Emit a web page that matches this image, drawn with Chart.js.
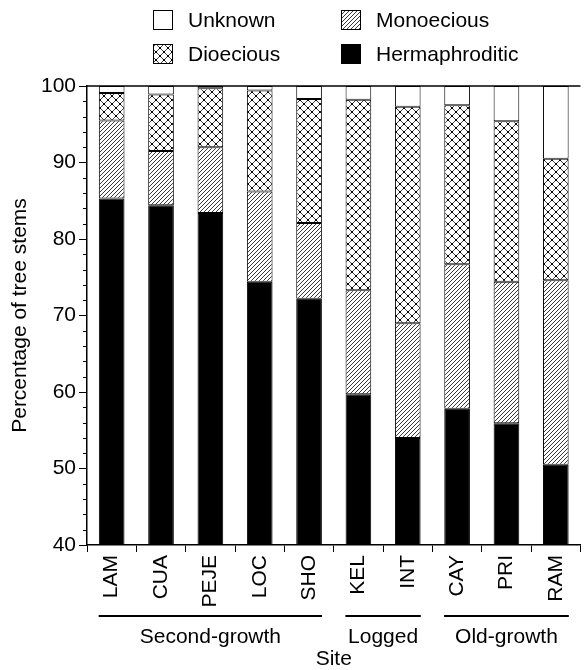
<!DOCTYPE html>
<html><head><meta charset="utf-8">
<script src="https://cdn.jsdelivr.net/npm/chart.js@4"></script>
<style>html,body{margin:0;padding:0;background:#fff;}#wrap{width:584px;height:670px;}</style>
</head><body><div id="wrap"><canvas id="c" width="584" height="670"></canvas></div>
<script>
const sites = ['LAM','CUA','PEJE','LOC','SHO','KEL','INT','CAY','PRI','RAM'];
const hermaphroditic = [85.3, 84.4, 83.4, 74.4, 72.2, 59.7, 54.0, 57.8, 55.9, 50.5];
const monoecious     = [10.2, 7.1, 8.6, 11.8, 9.9, 13.6, 15.0, 18.9, 18.5, 24.1];
const dioecious      = [3.6, 7.4, 7.7, 13.2, 16.2, 24.9, 28.3, 20.8, 21.0, 15.9];
const unknown        = [0.9, 1.1, 0.3, 0.6, 1.7, 1.8, 2.7, 2.5, 4.6, 9.5];
const groupNames = ['Second-growth','Logged','Old-growth'];
const groupStart = [0,5,7];
const groupEnd   = [4,6,9];
const yMin = 40, yMax = 100, yStep = 10, yMinorStep = 2;

const FONT = "'Liberation Sans', Arial, Helvetica, sans-serif";
const FS = 21;

function makeHatch(){
  const s = 4, c = document.createElement('canvas');
  c.width = s; c.height = s;
  const g = c.getContext('2d');
  g.fillStyle = '#fff'; g.fillRect(0,0,s,s);
  g.strokeStyle = '#222'; g.lineWidth = 0.9;
  g.beginPath();
  g.moveTo(-1, s+1); g.lineTo(s+1, -1);
  g.moveTo(-1, 1); g.lineTo(1, -1);
  g.moveTo(s-1, s+1); g.lineTo(s+1, s-1);
  g.stroke();
  return g.createPattern(c,'repeat');
}
function makeCross(){
  const s = 8, c = document.createElement('canvas');
  c.width = s; c.height = s;
  const g = c.getContext('2d');
  g.fillStyle = '#fff'; g.fillRect(0,0,s,s);
  g.strokeStyle = '#111'; g.lineWidth = 0.8;
  g.beginPath();
  g.moveTo(0,0); g.lineTo(s,s);
  g.moveTo(s,0); g.lineTo(0,s);
  g.stroke();
  g.fillStyle = '#000';
  g.fillRect(s/2-1, s/2-1, 2, 2);
  g.fillRect(0,0,1,1); g.fillRect(s-1,0,1,1); g.fillRect(0,s-1,1,1); g.fillRect(s-1,s-1,1,1);
  return g.createPattern(c,'repeat');
}
const hatch = makeHatch();
const cross = makeCross();

const legendItems = [
  {label:'Unknown', ds:3, col:0, row:0},
  {label:'Monoecious', ds:1, col:1, row:0},
  {label:'Dioecious', ds:2, col:0, row:1},
  {label:'Hermaphroditic', ds:0, col:1, row:1}
];

const decor = {
  id:'decor',
  afterDraw(chart){
    const {ctx, chartArea:a, scales:{x, y}} = chart;
    ctx.save();
    ctx.strokeStyle = '#000';
    // top frame line
    ctx.lineWidth = 1.5;
    ctx.beginPath(); ctx.moveTo(a.left, a.top); ctx.lineTo(a.right, a.top); ctx.stroke();
    // minor ticks
    ctx.lineWidth = 1;
    ctx.beginPath();
    for (let v = yMin; v <= yMax; v += yMinorStep){
      if (v % yStep === 0) continue;
      const py = Math.round(y.getPixelForValue(v)) + 0.5;
      ctx.moveTo(a.left - 4, py); ctx.lineTo(a.left, py);
    }
    ctx.stroke();
    // group lines and labels
    const half = 13;
    ctx.lineWidth = 2;
    ctx.fillStyle = '#000';
    ctx.font = FS + 'px ' + FONT;
    ctx.textAlign = 'center'; ctx.textBaseline = 'middle';
    const lineY = a.bottom + 71;
    for (let i = 0; i < groupNames.length; i++){
      const x1 = x.getPixelForValue(groupStart[i]) - half;
      const x2 = x.getPixelForValue(groupEnd[i]) + half;
      ctx.beginPath(); ctx.moveTo(x1, lineY); ctx.lineTo(x2, lineY); ctx.stroke();
      ctx.fillText(groupNames[i], (x1 + x2) / 2, lineY + 21);
    }
    // legend
    ctx.textAlign = 'left';
    const colX = [153, 341], rowY = [20, 54], box = 20;
    legendItems.forEach(it => {
      const ds = chart.data.datasets[it.ds];
      const bx = colX[it.col], by = rowY[it.row] - box/2;
      ctx.fillStyle = ds.backgroundColor;
      ctx.fillRect(bx, by, box, box);
      ctx.lineWidth = 1;
      ctx.strokeStyle = '#000';
      ctx.strokeRect(bx + 0.5, by + 0.5, box - 1, box - 1);
      ctx.fillStyle = '#000';
      ctx.fillText(it.label, bx + box + 15, rowY[it.row] + 1);
    });
    ctx.restore();
  }
};

new Chart(document.getElementById('c'), {
  type: 'bar',
  data: {
    labels: sites,
    datasets: [
      {label:'Hermaphroditic', data: hermaphroditic, backgroundColor:'#000'},
      {label:'Monoecious', data: monoecious, backgroundColor: hatch},
      {label:'Dioecious', data: dioecious, backgroundColor: cross},
      {label:'Unknown', data: unknown, backgroundColor:'#fff'}
    ]
  },
  options: {
    responsive: false,
    devicePixelRatio: 1,
    animation: false,
    datasets: { bar: { borderColor:'#000', borderWidth:1, borderSkipped:false, barPercentage:0.52, categoryPercentage:1 } },
    layout: { padding: { top: 86, right: 0, left: 0, bottom: 0 } },
    plugins: { legend: { display:false }, tooltip: { enabled:false } },
    scales: {
      x: {
        stacked: true,
        grid: { display:true, drawOnChartArea:false, drawTicks:true, tickLength:7, color:'#000', offset:true },
        border: { display:true, color:'#000', width:1.5 },
        ticks: { color:'#000', font:{ family:FONT, size:FS }, minRotation:90, maxRotation:90, padding:3, autoSkip:false },
        title: { display:true, text:'Site', color:'#000', font:{ family:FONT, size:FS }, padding:{ top:0, bottom:-2 } },
        afterFit(s){ s.height = 670 - 545; }
      },
      y: {
        stacked: true,
        min: yMin, max: yMax,
        grid: { display:true, drawOnChartArea:false, drawTicks:true, tickLength:8, color:'#000' },
        border: { display:true, color:'#000', width:1.5 },
        ticks: { stepSize: yStep, color:'#000', font:{ family:FONT, size:FS }, padding:3 },
        title: { display:true, text:'Percentage of tree stems', color:'#000', font:{ family:FONT, size:FS }, padding:{ top:8, bottom:0 } },
        afterFit(s){ s.width = 87; }
      }
    }
  },
  plugins: [decor]
});
</script>
</body></html>
